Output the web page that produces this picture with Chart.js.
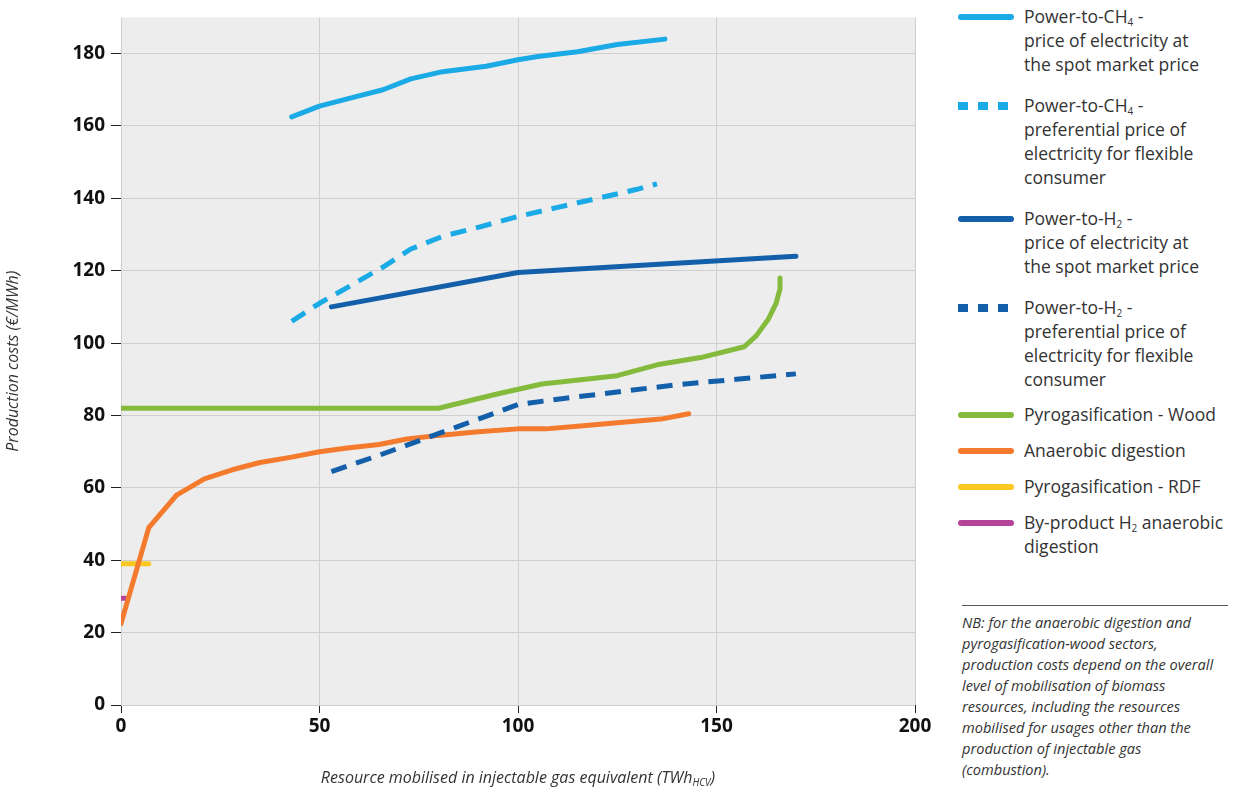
<!DOCTYPE html>
<html><head><meta charset="utf-8">
<script src="https://cdn.jsdelivr.net/npm/chart.js@4/dist/chart.umd.min.js"></script>
<style>
body{margin:0;background:#fff;font-family:"Open Sans","Noto Sans",sans-serif;}
#wrap{position:relative;width:1259px;height:793px;}
#c{position:absolute;left:0;top:0;}
#leg{position:absolute;left:958px;top:0;width:300px;color:#333;font-size:17.5px;line-height:24px;}
.it{position:relative;padding-left:66px;margin-bottom:11px;}
.sw{position:absolute;left:0;top:10px;width:56px;height:6px;border-radius:3px;}
.dash{display:flex;gap:10px;background:none;height:8px;top:9px;border-radius:0;width:60px;}
.dash i{flex:0 0 10px;height:8px;}
sub{font-size:10px;vertical-align:-3px;line-height:0;}
#nb{position:absolute;left:962px;top:605px;width:266px;border-top:1px solid #555;padding-top:6px;font-style:italic;font-size:14.6px;line-height:21px;color:#333;}
#xt{position:absolute;left:121px;width:794px;top:766px;text-align:center;font-style:italic;font-size:16px;color:#333;}
#xt sub{font-size:10px;}
</style></head><body>
<div id="wrap">
<canvas id="c" width="940" height="793"></canvas>
<div id="xt">Resource mobilised in injectable gas equivalent (TWh<sub>HCV</sub>)</div>
<div id="leg">
<div class="it" style="top:4px"><span class="sw" style="background:#1aaae6"></span>Power-to-CH<sub>4</sub> -<br>price of electricity at<br>the spot market price</div>
<div class="it" style="top:10px"><span class="sw dash"><i style="background:#1aaae6"></i><i style="background:#1aaae6"></i><i style="background:#1aaae6"></i></span>Power-to-CH<sub>4</sub> -<br>preferential price of<br>electricity for flexible<br>consumer</div>
<div class="it" style="top:16px"><span class="sw" style="background:#135faa"></span>Power-to-H<sub>2</sub> -<br>price of electricity at<br>the spot market price</div>
<div class="it" style="top:22px"><span class="sw dash"><i style="background:#135faa"></i><i style="background:#135faa"></i><i style="background:#135faa"></i></span>Power-to-H<sub>2</sub> -<br>preferential price of<br>electricity for flexible<br>consumer</div>
<div class="it" style="top:22px"><span class="sw" style="background:#84bb3c"></span>Pyrogasification - Wood</div>
<div class="it" style="top:23px"><span class="sw" style="background:#f47a2e"></span>Anaerobic digestion</div>
<div class="it" style="top:24px"><span class="sw" style="background:#fbc821"></span>Pyrogasification - RDF</div>
<div class="it" style="top:25px"><span class="sw" style="background:#b4449a"></span>By-product H<sub>2</sub> anaerobic<br>digestion</div>
</div>
<div id="nb">NB: for the anaerobic digestion and pyrogasification-wood sectors, production costs depend on the overall level of mobilisation of biomass resources, including the resources mobilised for usages other than the production of injectable gas (combustion).</div>
</div>
<script>
const ch4Spot=[[43,162.5],[50,165.5],[57,167.5],[66,170],[73,173],[81,175],[92,176.5],[100,178.3],[105,179.2],[115,180.5],[125,182.5],[137,184]];
const ch4Pref=[[43,106],[50,111],[58,116],[66,121],[73,126],[81,129.5],[90,132],[100,135],[110,137.5],[120,140],[130,142.5],[135,144]];
const h2Spot=[[53,110],[100,119.5],[170,124]];
const h2Pref=[[53,64.5],[65,69],[75,73],[85,77],[100,83],[110,84.5],[125,86.5],[140,88.5],[155,90],[170,91.5]];
const wood=[[0,82],[80,82],[95,86],[106,88.7],[125,91],[135,94],[146,96],[157,99],[160,102],[163,106.5],[165,111],[166,115],[166,118]];
const anaerobic=[[0,22.5],[7,49],[14,58],[21,62.5],[28,65],[35,67],[43,68.5],[50,70],[57,71],[65,72],[72,73.5],[80,74.5],[90,75.5],[100,76.3],[107,76.3],[115,77],[125,78],[136,79],[143,80.5]];
const rdf=[[0,39],[7,39]];
const byprod=[[0,29.5],[1,29.5]];
const yTicks=[0,20,40,60,80,100,120,140,160,180];
const xTicks=[0,50,100,150,200];
const pts=a=>a.map(p=>({x:p[0],y:p[1]}));
function ds(d,c,dash){return {data:pts(d),borderColor:c,borderWidth:5,pointRadius:0,tension:0,fill:false,borderDash:dash||[],borderCapStyle:dash?'butt':'round',borderJoinStyle:'round'};}
const bg={id:'bg',beforeDraw(ch){const a=ch.chartArea,x=ch.ctx;x.save();x.fillStyle='#ededed';x.fillRect(a.left,a.top,a.right-a.left,a.bottom-a.top);x.restore();}};
new Chart(document.getElementById('c'),{type:'scatter',plugins:[bg],
data:{datasets:[ds(ch4Spot,'#1aaae6'),ds(ch4Pref,'#1aaae6',[16,10]),ds(h2Spot,'#135faa'),ds(h2Pref,'#135faa',[16,10]),ds(wood,'#84bb3c'),ds(anaerobic,'#f47a2e'),ds(rdf,'#fbc821'),ds(byprod,'#b4449a')].map(d=>(d.showLine=true,d))},
options:{responsive:false,animation:false,layout:{padding:{left:0,top:7,right:25,bottom:0}},
plugins:{legend:{display:false},tooltip:{enabled:false}},
scales:{
x:{type:'linear',min:0,max:200,afterBuildTicks(s){s.ticks=xTicks.map(v=>({value:v}));},afterFit(s){s.height=88;},
grid:{color:'#cfcfcf',lineWidth:1,tickLength:8,tickColor:'#222'},border:{display:false},
ticks:{color:'#111',font:{family:'Open Sans',size:19,weight:'bold'},padding:2}},
y:{type:'linear',min:0,max:190,afterBuildTicks(s){s.ticks=yTicks.map(v=>({value:v}));},afterFit(s){s.width=121;},
grid:{color:'#cfcfcf',lineWidth:1,tickLength:10,tickColor:'#222'},border:{display:false},
ticks:{color:'#111',font:{family:'Open Sans',size:19,weight:'bold'},padding:6},
title:{display:true,text:'Production costs (€/MWh)',color:'#333',font:{family:'Open Sans',size:16,style:'italic'},padding:{bottom:14}}}
}}});
</script>
</body></html>
